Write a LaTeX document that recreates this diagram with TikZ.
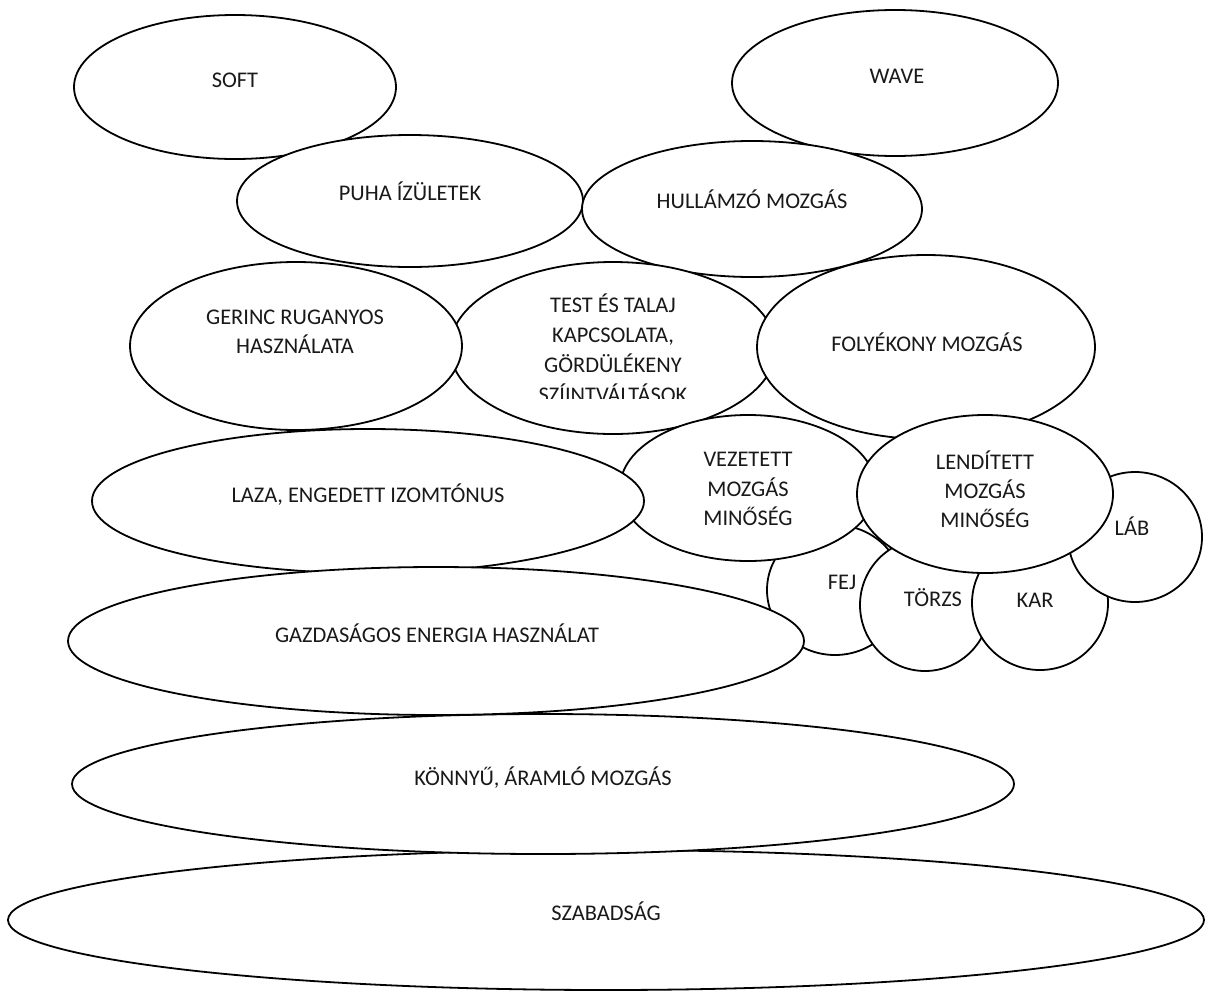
\documentclass[tikz,border=0pt]{standalone}
\usepackage{fontspec}
\setmainfont{Carlito}
\usetikzlibrary{shapes.geometric}
\tikzset{
  blob/.style={ellipse, draw=black, fill=white, line width=1.8pt, inner sep=0pt},
  lbl/.style={anchor=base, inner sep=0pt, text=black!90, font=\fontsize{22.4}{29.5}\selectfont}
}
\newcommand{\blobat}[5]{\node[blob, minimum width=#3pt, minimum height=#4pt] (#5) at (#1,#2) {};}
\begin{document}
\begin{tikzpicture}[x=1pt,y=-1pt]
\useasboundingbox (0,0) rectangle (1209,991);
% bottom layers
\blobat{606}{920}{1196}{140}{szab}
\node[lbl] (szabT) at (606,920) {SZABADSÁG};
\blobat{543}{784}{942}{140}{konnyu}
\node[lbl] (konnyuT) at (543,785) {KÖNNYŰ, ÁRAMLÓ MOZGÁS};
% top row
\blobat{235}{87}{322}{144}{soft}
\node[lbl] (softT) at (235,87.2) {SOFT};
\blobat{895}{83}{326}{146}{wave}
\node[lbl] (waveT) at (897,83.2) {WAVE};
\blobat{410}{201}{346}{132}{puha}
\node[lbl] (puhaT) at (410,200.2) {PUHA ÍZÜLETEK};
\blobat{752}{209}{340}{136}{hull}
\node[lbl] (hullT) at (752,208.2) {HULLÁMZÓ MOZGÁS};
% middle row
\blobat{613}{348}{326}{172}{test}
\begin{scope}
  \clip (440,255) rectangle (790,398.5);
  \node[lbl] (testA) at (613,312) {TEST ÉS TALAJ};
  \node[lbl] (testB) at (613,342) {KAPCSOLATA,};
  \node[lbl] (testC) at (613,372) {GÖRDÜLÉKENY};
  \node[lbl] (testD) at (613,402) {SZÍINTVÁLTÁSOK};
\end{scope}
\blobat{296}{346}{332}{168}{gerinc}
\node[lbl] (gerincA) at (295,324) {GERINC RUGANYOS};
\node[lbl] (gerincB) at (295,353) {HASZNÁLATA};
\blobat{926}{347}{338}{184}{foly}
\node[lbl] (folyT) at (927,351) {FOLYÉKONY MOZGÁS};
% lower cluster
\blobat{835}{590}{136}{130}{fej}
\node[lbl] (fejT) at (842,589) {FEJ};
\blobat{748}{488}{256}{146}{vez}
\node[lbl] (vezA) at (748,466) {VEZETETT};
\node[lbl] (vezB) at (748,496) {MOZGÁS};
\node[lbl] (vezC) at (748,525) {MINŐSÉG};
\blobat{368}{501}{552}{144}{laza}
\node[lbl] (lazaT) at (368,502) {LAZA, ENGEDETT IZOMTÓNUS};
\blobat{436}{641}{736}{148}{gazd}
\node[lbl] (gazdT) at (437,642) {GAZDASÁGOS ENERGIA HASZNÁLAT};
\blobat{925}{605}{130}{132}{torzs}
\node[lbl] (torzsT) at (933,606) {TÖRZS};
\blobat{1040}{603}{136}{134}{kar}
\node[lbl] (karT) at (1035,607) {KAR};
\blobat{1135}{537}{134}{130}{lab}
\node[lbl] (labT) at (1132,535) {LÁB};
\blobat{985}{494}{256}{158}{lend}
\node[lbl] (lendA) at (985,469) {LENDÍTETT};
\node[lbl] (lendB) at (985,498) {MOZGÁS};
\node[lbl] (lendC) at (985,527) {MINŐSÉG};
\end{tikzpicture}
\end{document}
